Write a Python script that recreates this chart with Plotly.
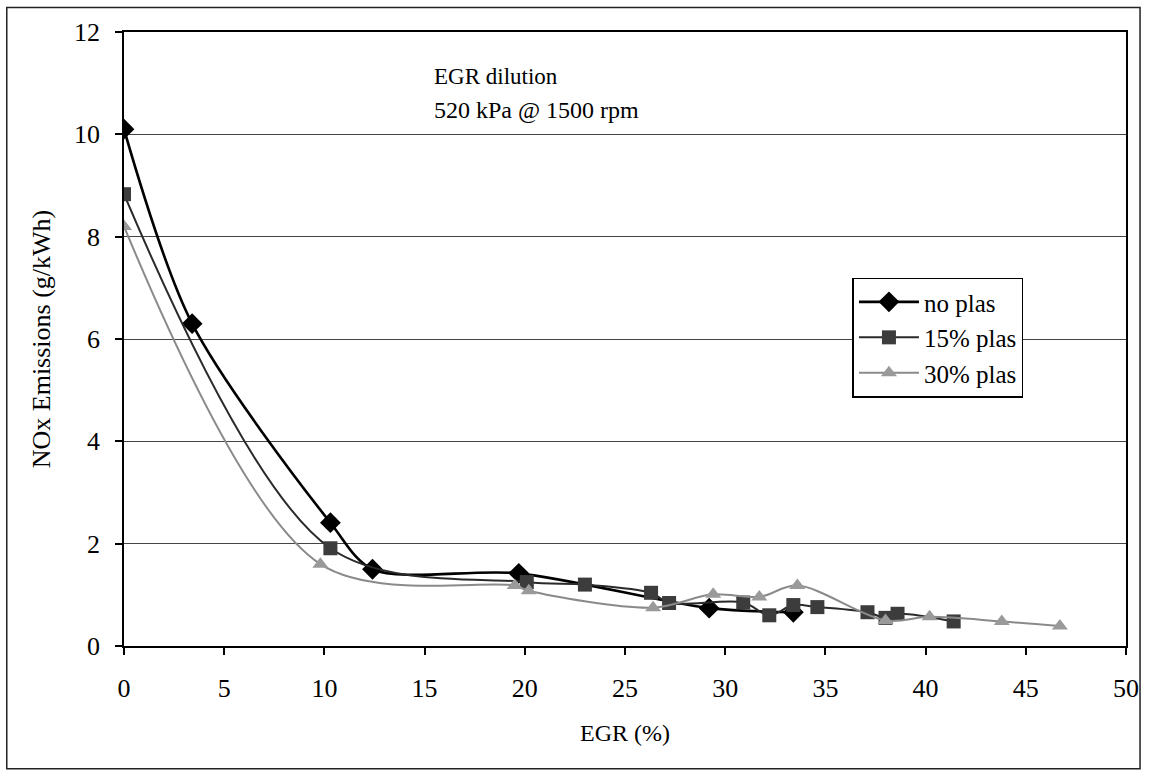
import plotly.graph_objects as go

# EGR dilution sweep, NOx emissions at 520 kPa @ 1500 rpm
egr_no_plas = [0.0, 3.4, 10.3, 12.4, 19.7, 29.2, 33.4]
nox_no_plas = [10.1, 6.3, 2.41, 1.50, 1.42, 0.74, 0.66]

egr_15 = [0.0, 10.3, 20.1, 23.0, 26.3, 27.2, 30.9, 32.2, 33.4, 34.6, 37.1, 38.0, 38.6, 41.4]
nox_15 = [8.83, 1.91, 1.25, 1.20, 1.04, 0.84, 0.85, 0.60, 0.80, 0.76, 0.66, 0.55, 0.63, 0.48]

egr_30 = [0.0, 9.8, 19.5, 20.2, 26.4, 29.4, 31.7, 33.6, 38.0, 40.2, 43.8, 46.7]
nox_30 = [8.2, 1.60, 1.18, 1.08, 0.75, 1.01, 0.96, 1.18, 0.50, 0.57, 0.48, 0.39]

x_ticks = [0, 5, 10, 15, 20, 25, 30, 35, 40, 45, 50]
y_ticks = [0, 2, 4, 6, 8, 10, 12]

FONT = "Liberation Serif, Times New Roman, serif"

fig = go.Figure()
fig.add_trace(go.Scatter(
    x=egr_no_plas, y=nox_no_plas, name="no plas", mode="lines+markers",
    line=dict(color="#000000", width=2.6, shape="spline", smoothing=0.85),
    marker=dict(symbol="diamond", size=16, color="#000000"),
))
fig.add_trace(go.Scatter(
    x=egr_15, y=nox_15, name="15% plas", mode="lines+markers",
    line=dict(color="#2a2a2a", width=2, shape="spline", smoothing=0.95),
    marker=dict(symbol="square", size=14, color="#3c3c3c"),
))
fig.add_trace(go.Scatter(
    x=egr_30, y=nox_30, name="30% plas", mode="lines+markers",
    line=dict(color="#8a8a8a", width=2, shape="spline", smoothing=0.95),
    marker=dict(symbol="triangle-up", size=14, color="#9a9a9a"),
))

fig.update_layout(
    width=1151, height=780,
    margin=dict(l=124, r=22, t=32, b=134),
    paper_bgcolor="white", plot_bgcolor="white",
    font=dict(family=FONT, size=24, color="#000"),
    showlegend=True,
    legend=dict(
        x=0.727, y=0.60, xanchor="left", yanchor="top",
        bgcolor="white", bordercolor="#000", borderwidth=1.5,
        font=dict(family=FONT, size=25), itemwidth=60,
        tracegroupgap=8,
    ),
    xaxis=dict(
        range=[0, 50], tickvals=x_ticks, ticktext=[str(v) for v in x_ticks],
        showgrid=False, zeroline=False,
        showline=True, linecolor="#000", linewidth=1.5, mirror=True,
        ticks="outside", ticklen=7, tickcolor="#000", tickwidth=1.5,
        ticklabelstandoff=11,
        tickfont=dict(family=FONT, size=26),
        title=dict(text="EGR (%)", font=dict(family=FONT, size=24), standoff=22),
    ),
    yaxis=dict(
        range=[0, 12], tickvals=y_ticks, ticktext=[str(v) for v in y_ticks],
        showgrid=True, gridcolor="#444", gridwidth=1.2, zeroline=False,
        showline=True, linecolor="#000", linewidth=1.5, mirror=True,
        ticks="outside", ticklen=7, tickcolor="#000", tickwidth=1.5,
        ticklabelstandoff=10,
        tickfont=dict(family=FONT, size=26),
        title=dict(text="NOx Emissions (g/kWh)", font=dict(family=FONT, size=26), standoff=16),
    ),
    annotations=[
        dict(x=0.307, y=0.928, xref="paper", yref="paper", xanchor="left", yanchor="middle",
             text="EGR dilution", showarrow=False, font=dict(family=FONT, size=23)),
        dict(x=0.307, y=0.873, xref="paper", yref="paper", xanchor="left", yanchor="middle",
             text="520 kPa @ 1500 rpm", showarrow=False, font=dict(family=FONT, size=24)),
    ],
    shapes=[
        dict(type="rect", xref="paper", yref="paper",
             x0=-0.117, x1=1.014, y0=-0.20, y1=1.04,
             line=dict(color="#222", width=1.5), fillcolor="rgba(0,0,0,0)", layer="below"),
    ],
)

fig.write_html("out.html")
